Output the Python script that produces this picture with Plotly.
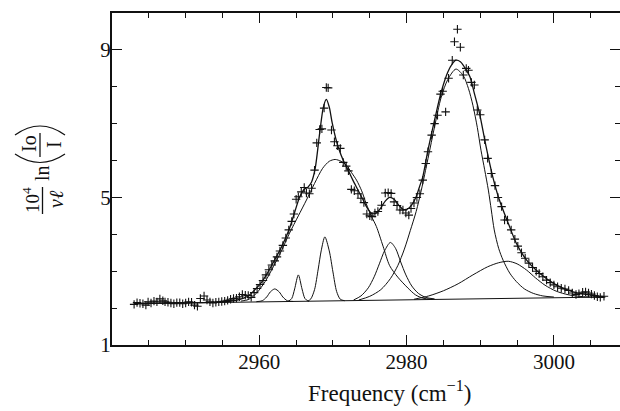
import plotly.graph_objects as go

# ---------------- data ----------------
data_x = [2943.0, 2943.4, 2943.8, 2944.2, 2944.6, 2944.9, 2945.3, 2945.7, 2946.1, 2946.5,
          2946.9, 2947.2, 2947.6, 2948.0, 2948.4, 2948.8, 2949.2, 2949.6, 2950.0, 2950.4,
          2950.8, 2951.2, 2951.6, 2952.0, 2952.5, 2952.9, 2953.3, 2953.7, 2954.1, 2954.5,
          2954.9, 2955.3, 2955.7, 2956.1, 2956.5, 2956.9, 2957.3, 2957.7, 2958.1, 2958.5,
          2958.9, 2959.3, 2959.7, 2960.1, 2960.5, 2960.9, 2961.3, 2961.7, 2962.1, 2962.4,
          2962.8, 2963.2, 2963.6, 2964.0, 2964.4, 2964.7, 2965.0, 2965.3, 2965.7, 2966.1,
          2966.4, 2966.8, 2967.1, 2967.5, 2967.8, 2968.2, 2968.5, 2968.8, 2969.1, 2969.35,
          2969.8, 2970.2, 2970.6, 2971.0, 2971.4, 2971.8, 2972.1, 2972.5, 2972.9, 2973.4,
          2973.8, 2974.2, 2974.6, 2975.0, 2975.3, 2975.7, 2976.1, 2976.6, 2977.1, 2977.5,
          2977.9, 2978.3, 2978.7, 2979.1, 2979.5, 2979.9, 2980.3, 2980.6, 2981.0, 2981.4,
          2981.8, 2982.2, 2982.6, 2982.9, 2983.4, 2983.8, 2984.2, 2984.6, 2984.9, 2985.3,
          2985.7, 2986.2, 2986.5, 2986.9, 2987.3, 2987.7, 2988.1, 2988.4, 2988.8, 2989.2,
          2989.6, 2990.0, 2990.6, 2991.0, 2991.5, 2992.0, 2992.4, 2992.9, 2993.3, 2993.7,
          2994.2, 2994.7, 2995.1, 2995.6, 2996.1, 2996.6, 2997.1, 2997.6, 2998.0, 2998.5,
          2999.0, 2999.5, 3000.0, 3000.5, 3001.0, 3001.5, 3002.0, 3002.5, 3003.0, 3003.4,
          3003.9, 3004.3, 3004.7, 3005.1, 3005.5, 3005.9, 3006.3, 3006.8]
data_y = [2.10, 2.15, 2.13, 2.12, 2.08, 2.17, 2.14, 2.19, 2.17, 2.25,
          2.20, 2.17, 2.16, 2.14, 2.12, 2.15, 2.15, 2.12, 2.14, 2.17,
          2.16, 2.08, 2.05, 2.26, 2.33, 2.22, 2.17, 2.14, 2.16, 2.17,
          2.18, 2.19, 2.21, 2.24, 2.26, 2.27, 2.31, 2.37, 2.35, 2.34,
          2.29, 2.42, 2.53, 2.64, 2.75, 2.90, 3.04, 3.17, 3.28, 3.39,
          3.55, 3.70, 3.90, 4.12, 4.35, 4.55, 4.95, 5.02, 5.15, 5.27,
          5.12, 5.10, 5.25, 5.74, 6.48, 6.84, 6.86, 7.42, 7.98, 7.97,
          6.83, 6.51, 6.40, 6.33, 5.95, 5.85, 5.72, 5.22, 5.18, 5.10,
          4.98, 4.86, 4.55, 4.50, 4.48, 4.58, 4.62, 4.79, 5.12, 5.13,
          5.11, 4.88, 4.78, 4.66, 4.66, 4.58, 4.52, 4.70, 4.85, 5.00,
          5.10, 5.47, 5.92, 6.24, 6.69, 7.00, 7.23, 7.80, 7.88, 7.32,
          8.23, 8.72, 9.22, 9.56, 9.07, 8.32, 8.50, 8.45, 8.12, 8.05,
          7.37, 7.24, 6.56, 6.06, 5.65, 5.32, 5.00, 4.75, 4.39, 4.39,
          4.12, 3.87, 3.68, 3.50, 3.35, 3.22, 3.10, 3.00, 2.94, 2.85,
          2.76, 2.69, 2.63, 2.58, 2.54, 2.52, 2.48, 2.41, 2.37, 2.39,
          2.43, 2.44, 2.41, 2.38, 2.34, 2.31, 2.29, 2.32]

fit_x = [2943.0, 2950.0, 2955.0, 2957.0, 2958.5, 2959.6, 2960.3, 2961.1, 2961.9, 2963.0,
         2964.1, 2964.8, 2965.5, 2966.1, 2966.6, 2967.1, 2967.6, 2968.2, 2968.7, 2969.1,
         2969.5, 2969.9, 2970.5, 2971.1, 2971.6, 2972.2, 2972.7, 2973.4, 2974.1, 2974.7,
         2975.3, 2975.9, 2976.5, 2977.1, 2977.7, 2978.3, 2978.9, 2979.5, 2980.1, 2980.7,
         2981.3, 2981.8, 2982.2, 2982.9, 2983.8, 2984.7, 2985.6, 2986.2, 2986.7, 2987.3,
         2987.9, 2988.6, 2989.2, 2989.9, 2990.8, 2991.7, 2992.6, 2993.8, 2994.9, 2996.3,
         2998.1, 3000.3, 3002.6, 3004.8, 3006.8]
fit_y = [2.12, 2.14, 2.17, 2.22, 2.33, 2.54, 2.70, 2.95, 3.24, 3.65,
         4.16, 4.60, 5.02, 5.22, 5.28, 5.42, 5.80, 6.75, 7.45, 7.66,
         7.45, 7.02, 6.51, 6.15, 5.92, 5.68, 5.47, 5.20, 4.93, 4.70,
         4.56, 4.58, 4.72, 4.90, 5.00, 4.95, 4.80, 4.68, 4.68, 4.80,
         5.02, 5.32, 5.56, 6.28, 7.10, 7.86, 8.40, 8.62, 8.72, 8.68,
         8.52, 8.27, 7.82, 7.28, 6.37, 5.56, 4.93, 4.30, 3.76, 3.30,
         2.94, 2.63, 2.44, 2.36, 2.31]

base_x = [2943.0, 3007.0]
base_y = [2.12, 2.30]

pkA_x = [2959.6, 2960.4, 2961.0, 2961.5, 2962.1, 2962.7, 2963.2, 2963.8, 2964.6]
pkA_y = [2.175, 2.20, 2.30, 2.44, 2.52, 2.44, 2.30, 2.20, 2.18]

pkB_x = [2963.9, 2964.4, 2964.8, 2965.3, 2965.8, 2966.2, 2966.7]
pkB_y = [2.18, 2.26, 2.52, 2.90, 2.52, 2.26, 2.18]

pkC_x = [2966.6, 2967.0, 2967.5, 2968.0, 2968.4, 2968.9, 2969.5, 2970.0, 2970.5, 2971.0, 2971.6]
pkC_y = [2.19, 2.25, 2.50, 3.06, 3.55, 3.93, 3.55, 2.98, 2.45, 2.24, 2.20]

pkD_x = [2957.5, 2958.5, 2959.6, 2960.8, 2961.9, 2963.0, 2964.1, 2965.3, 2966.4, 2967.5,
         2968.6, 2969.5, 2970.3, 2971.1, 2971.8, 2972.5, 2973.2, 2973.9, 2974.5, 2975.2,
         2975.9, 2976.8, 2977.7, 2978.8, 2980.2, 2981.2, 2982.2, 2983.5]
pkD_y = [2.19, 2.23, 2.40, 2.72, 3.12, 3.55, 4.03, 4.50, 4.93, 5.38,
         5.79, 5.98, 6.03, 5.98, 5.88, 5.68, 5.47, 5.18, 4.84, 4.50,
         4.21, 3.68, 3.15, 2.84, 2.54, 2.36, 2.27, 2.24]

pkE_x = [2972.8, 2973.8, 2974.8, 2975.6, 2976.3, 2977.0, 2977.8, 2978.5, 2979.2, 2979.9,
         2980.7, 2981.6, 2982.6, 2983.8]
pkE_y = [2.22, 2.33, 2.55, 2.85, 3.20, 3.55, 3.78, 3.62, 3.25, 2.90,
         2.60, 2.40, 2.29, 2.25]

pkF_x = [2973.5, 2975.0, 2976.5, 2977.8, 2978.8, 2979.7, 2980.5, 2981.3, 2982.0, 2982.9,
         2983.8, 2984.7, 2985.6, 2986.7, 2987.7, 2988.4, 2989.0, 2989.6, 2990.1, 2990.6,
         2991.1, 2991.5, 2991.9, 2992.5, 2993.1, 2994.0, 2994.9, 2996.0, 2997.2, 2998.5,
         3000.0]
pkF_y = [2.22, 2.32, 2.50, 2.80, 3.15, 3.60, 4.10, 4.62, 5.20, 6.05,
         6.92, 7.72, 8.20, 8.48, 8.30, 7.95, 7.50, 6.90, 6.28, 5.75,
         5.20, 4.66, 4.12, 3.62, 3.30, 2.95, 2.72, 2.52, 2.40, 2.33,
         2.30]

pkG_x = [2981.0, 2983.0, 2985.0, 2987.0, 2989.0, 2991.0, 2992.5, 2993.8, 2995.0, 2996.3,
         2997.5, 2998.8, 3000.3, 3002.0, 3004.0, 3006.0]
pkG_y = [2.24, 2.33, 2.47, 2.66, 2.90, 3.12, 3.23, 3.27, 3.20, 3.03,
         2.82, 2.62, 2.46, 2.36, 2.31, 2.30]

x_ticks = [2960, 2980, 3000]
y_ticks = [1, 5, 9]
x_title = "Frequency (cm<sup>−1</sup>)"

# ---------------- figure ----------------
W, H = 620, 411
L, R, T, B = 112, 0, 13, 66
SERIF = "Liberation Serif, Times New Roman, serif"
INK = "#111111"
X_RANGE = [2940, 2940 + (W - L - R) / 7.365]
Y_RANGE = [1, 10]
pw, ph = W - L - R, H - T - B

fig = go.Figure()

components = [(base_x, base_y), (pkA_x, pkA_y), (pkB_x, pkB_y), (pkC_x, pkC_y),
              (pkD_x, pkD_y), (pkE_x, pkE_y), (pkF_x, pkF_y), (pkG_x, pkG_y)]
for cx, cy in components:
    fig.add_trace(go.Scatter(x=cx, y=cy, mode="lines",
                             line=dict(color=INK, width=1, shape="spline", smoothing=0.8),
                             hoverinfo="skip", showlegend=False))

fig.add_trace(go.Scatter(x=fit_x, y=fit_y, mode="lines",
                         line=dict(color=INK, width=1.3, shape="spline", smoothing=0.8),
                         showlegend=False))

fig.add_trace(go.Scatter(x=data_x, y=data_y, mode="markers",
                         marker=dict(symbol="cross-thin", size=6,
                                     line=dict(color=INK, width=1.1)),
                         showlegend=False))

# invisible carrier trace for the label-only axes
fig.add_trace(go.Scatter(x=base_x, y=base_y, xaxis="x2", yaxis="y2", mode="lines",
                         line=dict(color="rgba(0,0,0,0)", width=0),
                         hoverinfo="skip", showlegend=False))

frame = dict(showline=True, linecolor=INK, linewidth=1.5, mirror="ticks",
             ticks="inside", ticklen=10, tickwidth=1.2, tickcolor=INK,
             showgrid=False, zeroline=False, automargin=False, showticklabels=False)
labels = dict(showline=False, showgrid=False, zeroline=False, automargin=False,
              ticks="outside", ticklen=1, tickcolor="rgba(0,0,0,0)", anchor="free",
              tickfont=dict(family=SERIF, size=21, color=INK))

fig.update_layout(
    xaxis=dict(range=X_RANGE, tickvals=x_ticks,
               minor=dict(dtick=5, tick0=2940, ticklen=5, tickwidth=1.2,
                          tickcolor=INK, ticks="inside", showgrid=False), **frame),
    yaxis=dict(range=Y_RANGE, tickvals=y_ticks,
               minor=dict(dtick=1, tick0=1, ticklen=5, tickwidth=1.2,
                          tickcolor=INK, ticks="inside", showgrid=False), **frame),
    xaxis2=dict(range=X_RANGE, overlaying="x", side="bottom", tickvals=x_ticks,
                ticktext=[str(v) for v in x_ticks], position=3 / ph, **labels),
    yaxis2=dict(range=Y_RANGE, overlaying="y", side="left", tickvals=y_ticks,
                ticktext=[str(v) for v in y_ticks], position=4 / pw, **labels),
)


def px(xp):
    return (xp - L) / pw


def py(yp):
    return (H - B - yp) / ph


def note(text, x, y, size, angle=-90, italic=False):
    fig.add_annotation(text=f"<i>{text}</i>" if italic else text,
                       x=px(x), y=py(y), xref="paper", yref="paper",
                       xanchor="center", yanchor="middle", showarrow=False,
                       textangle=angle, font=dict(family=SERIF, size=size, color=INK))


def qpath(p0, c, p1):
    return (f"M {px(p0[0])},{py(p0[1])} Q {px(c[0])},{py(c[1])} "
            f"{px(p1[0])},{py(p1[1])}")


# x-axis title
note(x_title, 389, 391, 23, angle=0)

# y-axis title: 10^4 / (ν ℓ) ln ( Io / I ), rotated
note("10<sup>4</sup>", 31, 200, 19)
note("νℓ", 56, 199, 20, italic=True)
note("ln", 42, 173, 20)
note("Io", 29, 144, 20)
note("I", 54, 145, 20)
fig.add_shape(type="line", xref="paper", yref="paper",
              x0=px(42.5), x1=px(42.5), y0=py(187), y1=py(214),
              line=dict(color=INK, width=1.3))
fig.add_shape(type="line", xref="paper", yref="paper",
              x0=px(40), x1=px(40), y0=py(133), y1=py(157),
              line=dict(color=INK, width=1.3))
# big parentheses drawn as thin arcs
fig.add_shape(type="path", xref="paper", yref="paper",
              path=qpath((15, 154), (40, 171), (65, 154)),
              line=dict(color=INK, width=1.2))
fig.add_shape(type="path", xref="paper", yref="paper",
              path=qpath((15, 135), (40, 117), (65, 135)),
              line=dict(color=INK, width=1.2))

fig.update_layout(width=W, height=H, margin=dict(l=L, r=R, t=T, b=B),
                  paper_bgcolor="white", plot_bgcolor="white", showlegend=False)

fig.write_html("out.html", config={"displayModeBar": False},
               post_script="document.body.style.margin='0';document.body.style.padding='0';")
